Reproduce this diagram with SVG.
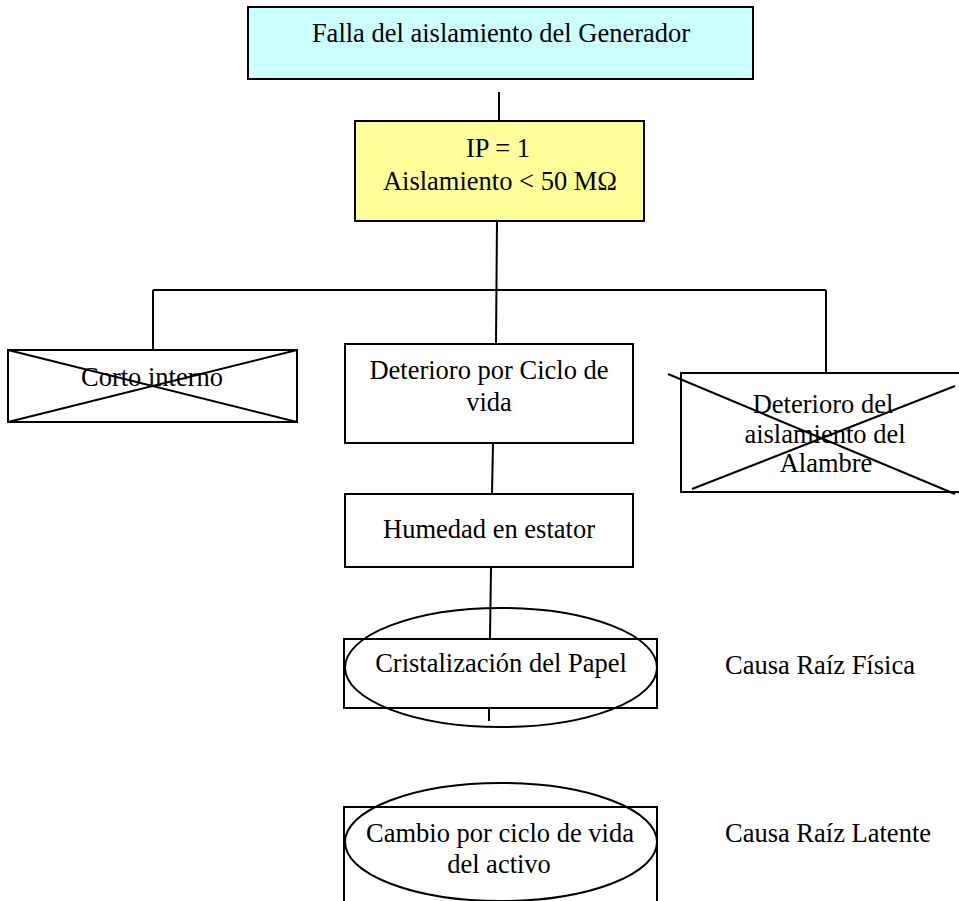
<svg xmlns="http://www.w3.org/2000/svg" width="959" height="901" viewBox="0 0 959 901">
<style>
.box{fill:#fff;stroke:#000;stroke-width:2}
.ln{stroke:#000;stroke-width:2;fill:none}
.ell{fill:none;stroke:#000;stroke-width:2}
text{font-family:"Liberation Serif","Times New Roman",serif;font-size:26.5px;fill:#000;text-anchor:middle}
</style>
<rect width="959" height="901" fill="#fff"/>
<g id="connectors">
<line class="ln" x1="499" y1="92" x2="499" y2="121"/>
<line class="ln" x1="497" y1="221" x2="496" y2="344"/>
<line class="ln" x1="153" y1="290" x2="826" y2="290"/>
<line class="ln" x1="153" y1="290" x2="153" y2="350"/>
<line class="ln" x1="826" y1="290" x2="826" y2="373"/>
<line class="ln" x1="493" y1="443" x2="492" y2="494"/>
<line class="ln" x1="491" y1="567" x2="490" y2="639"/>
<line class="ln" x1="489" y1="708" x2="489" y2="721"/>
</g>
<g id="falla">
<rect class="box" x="248" y="7" width="505" height="72" style="fill:#CCFFFF"/>
<text x="501" y="42">Falla del aislamiento del Generador</text>
</g>
<g id="ip">
<rect class="box" x="355" y="121" width="289" height="100" style="fill:#FFFF99"/>
<text x="498" y="157">IP = 1</text>
<text x="500" y="190">Aislamiento &lt; 50 MΩ</text>
</g>
<g id="corto">
<rect class="box" x="8" y="350" width="289" height="72"/>
<text x="152" y="386">Corto interno</text>
<line class="ln" x1="8" y1="350" x2="297" y2="422"/>
<line class="ln" x1="8" y1="422" x2="297" y2="350"/>
</g>
<g id="deterioro-ciclo">
<rect class="box" x="345" y="344" width="288" height="99"/>
<text x="489" y="379">Deterioro por Ciclo de</text>
<text x="489" y="411">vida</text>
</g>
<g id="deterioro-alambre">
<rect class="box" x="681" y="373" width="290" height="119"/>
<text x="823" y="413">Deterioro del</text>
<text x="825" y="443">aislamiento del</text>
<text x="826" y="472">Alambre</text>
<line class="ln" x1="668" y1="374" x2="955" y2="494"/>
<line class="ln" x1="692" y1="489" x2="955" y2="386"/>
</g>
<g id="humedad">
<rect class="box" x="345" y="494" width="288" height="73"/>
<text x="489" y="538">Humedad en estator</text>
</g>
<g id="cristalizacion">
<rect class="box" x="344" y="639" width="313" height="69"/>
<ellipse class="ell" cx="501" cy="667.5" rx="156" ry="59.5"/>
<text x="501" y="672">Cristalización del Papel</text>
</g>
<g id="causa-fisica">
<text x="820" y="674">Causa Raíz Física</text>
</g>
<g id="cambio">
<rect class="box" x="344" y="807" width="313" height="110"/>
<ellipse class="ell" cx="501" cy="842" rx="156" ry="59"/>
<text x="500" y="842">Cambio por ciclo de vida</text>
<text x="499" y="873">del activo</text>
</g>
<g id="causa-latente">
<text x="828" y="842">Causa Raíz Latente</text>
</g>
</svg>
